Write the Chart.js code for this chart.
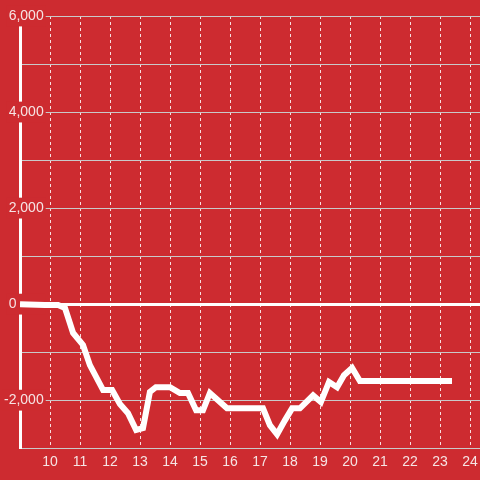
<!DOCTYPE html>
<html>
<head>
<meta charset="utf-8">
<script src="https://cdn.jsdelivr.net/npm/chart.js@4"></script>
<style>
  html, body { margin: 0; padding: 0; background: #cd2b30; }
  #wrap { width: 480px; height: 480px; }
</style>
</head>
<body>
<div id="wrap"><canvas id="myChart"></canvas></div>
<script>
// hour of day (decimal) and running value
var hours = [9.0, 9.83, 10.27, 10.5, 10.77, 11.1, 11.33, 11.77, 12.07, 12.33, 12.6, 12.87, 13.1, 13.33, 13.53, 14.0, 14.33, 14.6, 14.87, 15.1, 15.33, 15.6, 15.9, 17.1, 17.33, 17.57, 17.83, 18.07, 18.33, 18.77, 19.03, 19.3, 19.57, 19.8, 20.07, 20.33, 23.4];
var values = [0, -20, -20, -80, -600, -850, -1270, -1790, -1790, -2080, -2270, -2620, -2580, -1830, -1730, -1730, -1850, -1850, -2210, -2210, -1850, -2000, -2170, -2170, -2520, -2710, -2420, -2170, -2170, -1900, -2040, -1620, -1730, -1480, -1330, -1600, -1600];
var xTicks = [10, 11, 12, 13, 14, 15, 16, 17, 18, 19, 20, 21, 22, 23, 24];
var yLabelled = [6000, 4000, 2000, 0, -2000];

var bg = '#cd2b30';
var txt = '#f6e4e4';

var points = hours.map(function (h, i) { return { x: h, y: values[i] }; });

var ctx = document.getElementById('myChart').getContext('2d');
var myChart = new Chart(ctx, {
  type: 'line',
  data: {
    datasets: [{
      data: points,
      borderColor: '#ffffff',
      borderWidth: 6,
      pointRadius: 0,
      fill: false,
      tension: 0
    }]
  },
  options: {
    responsive: true,
    maintainAspectRatio: false,
    animation: false,
    layout: { padding: { left: 20, top: 16, right: 0, bottom: 9 } },
    plugins: { legend: { display: false }, tooltip: { enabled: false } },
    scales: {
      x: {
        type: 'linear',
        min: 9,
        max: 24 + 1 / 3,
        afterBuildTicks: function (axis) {
          axis.ticks = xTicks.map(function (v) { return { value: v }; });
        },
        grid: {
          color: 'rgba(255,255,255,0.85)',
          lineWidth: 1,
          drawTicks: true,
          tickLength: 6,
          tickColor: 'rgba(0,0,0,0)'
        },
        border: { display: false, dash: [3, 3] },
        ticks: {
          color: txt,
          padding: 0,
          maxRotation: 0,
          font: { family: 'Liberation Sans', size: 14 },
          callback: function (v) { return String(v); }
        }
      },
      y: {
        min: -3000,
        max: 6000,
        afterFit: function (scale) { scale.width = 0; },
        grid: {
          drawTicks: false,
          color: function (c) { return c.tick && c.tick.value === 0 ? '#ffffff' : '#c9c9c9'; },
          lineWidth: function (c) { return c.tick && c.tick.value === 0 ? 3 : 1; }
        },
        border: { display: true, color: '#ffffff', width: 3 },
        ticks: {
          stepSize: 1000,
          mirror: true,
          crossAlign: 'far',
          padding: -16,
          color: txt,
          font: { family: 'Liberation Sans', size: 14 },
          showLabelBackdrop: function (c) { return c.tick && yLabelled.indexOf(c.tick.value) >= 0; },
          backdropColor: bg,
          backdropPadding: 2,
          callback: function (v) {
            if (yLabelled.indexOf(v) < 0) return '';
            if (v === 0) return '0\u0020\u0020\u0020\u0020\u0020\u0020\u0020';
            return v.toLocaleString('en-US');
          }
        }
      }
    }
  }
});
</script>
</body>
</html>
